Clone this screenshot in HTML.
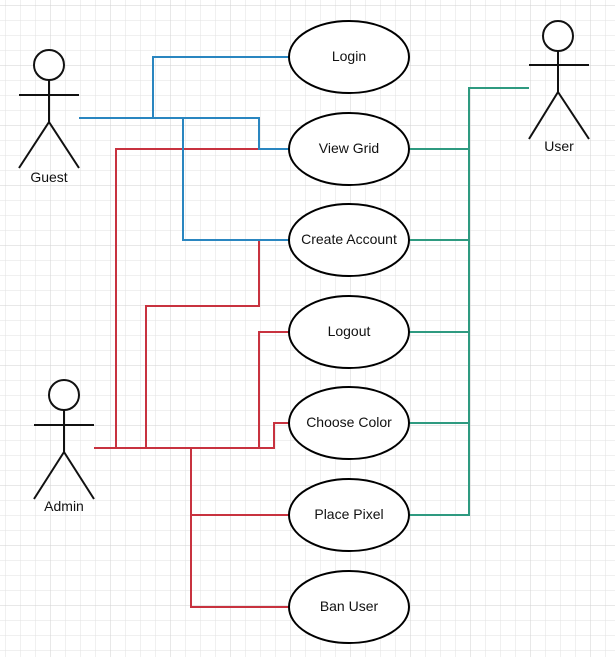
<!DOCTYPE html>
<html><head><style>body{margin:0;background:#fff}svg{display:block}</style></head><body>
<svg width="615" height="657" xmlns="http://www.w3.org/2000/svg" font-family="Liberation Sans, Arial, sans-serif">
<defs>
<pattern id="g" x="5" y="5" width="15" height="15" patternUnits="userSpaceOnUse"><path d="M0 0H15M0 0V15" stroke="#e2e2e2" stroke-width="1" fill="none"/></pattern>
<pattern id="G" x="50" y="5" width="60" height="60" patternUnits="userSpaceOnUse"><path d="M0 0H60M0 0V60" stroke="#d2d2d2" stroke-width="1" fill="none"/></pattern>
</defs>
<rect width="615" height="657" fill="url(#g)"/>
<rect width="615" height="657" fill="url(#G)"/>
<g fill="none" stroke-width="2">
<path stroke="#c8323f" d="M94 448H274V423H289M116 448V149H259M146 448V306H259V240H289M259 448V332H289M191 448V607H289M191 515H289"/>
<path stroke="#2a86c0" d="M79 118H259V149H289M153 118V57H289M183 118V240H289"/>
<path stroke="#2e9a80" d="M529 88H469V515H409M409 149H469M409 240H469M409 332H469M409 423H469"/>
</g>
<g fill="#fff" stroke="#000" stroke-width="2">
<ellipse cx="349" cy="57" rx="60" ry="36"/>
<ellipse cx="349" cy="149" rx="60" ry="36"/>
<ellipse cx="349" cy="240" rx="60" ry="36"/>
<ellipse cx="349" cy="332" rx="60" ry="36"/>
<ellipse cx="349" cy="423" rx="60" ry="36"/>
<ellipse cx="349" cy="515" rx="60" ry="36"/>
<ellipse cx="349" cy="607" rx="60" ry="36"/>
</g>
<g stroke="#111" stroke-width="2" fill="#fff">
<circle cx="49" cy="65" r="15"/><path fill="none" d="M19 95H79M49 80V122L19 168M49 122L79 168"/>
<circle cx="64" cy="395" r="15"/><path fill="none" d="M34 425H94M64 410V452L34 499M64 452L94 499"/>
<circle cx="558" cy="36" r="15"/><path fill="none" d="M529 65H589M558 51V92L529 139M558 92L589 139"/>
</g>
<g font-size="14" text-anchor="middle" fill="#111">
<text x="349" y="61">Login</text>
<text x="349" y="153">View Grid</text>
<text x="349" y="244">Create Account</text>
<text x="349" y="336">Logout</text>
<text x="349" y="427">Choose Color</text>
<text x="349" y="519">Place Pixel</text>
<text x="349" y="611">Ban User</text>
<text x="49" y="182">Guest</text>
<text x="64" y="511">Admin</text>
<text x="559" y="151">User</text>
</g>
</svg>
</body></html>
